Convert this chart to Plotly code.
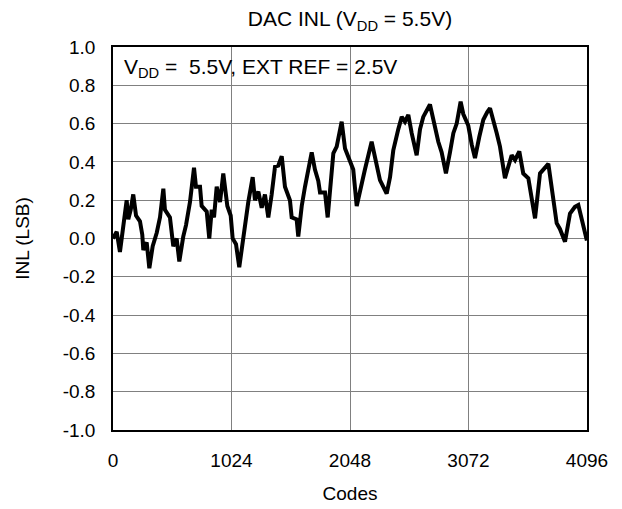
import plotly.graph_objects as go

codes = [0, 32, 60, 89, 118, 132, 153, 175, 199, 233, 253, 262, 291, 314, 343, 378, 406, 435, 449, 492,
         521, 550, 573, 607, 631, 665, 700, 717, 752, 766, 810, 832, 853, 873, 896, 925, 953, 988, 1017, 1034,
         1063, 1091, 1121, 1141, 1169, 1207, 1227, 1256, 1285, 1313, 1342, 1371, 1400, 1428, 1458, 1486, 1529,
         1544, 1587, 1601, 1631, 1659, 1688, 1717, 1745, 1774, 1789, 1832, 1855, 1875, 1904, 1933, 1976, 2005,
         2048, 2076, 2106, 2134, 2177, 2235, 2264, 2307, 2336, 2365, 2394, 2422, 2465, 2495, 2523, 2552, 2581,
         2624, 2653, 2681, 2739, 2768, 2811, 2840, 2877, 2912, 2941, 2970, 3004, 3027, 3070, 3100, 3128, 3165,
         3200, 3234, 3258, 3316, 3344, 3387, 3416, 3445, 3474, 3511, 3545, 3589, 3647, 3690, 3762, 3791, 3834,
         3862, 3906, 3949, 3992, 4021, 4050, 4095]
inl = [0.00, 0.035, -0.07, 0.06, 0.20, 0.10, 0.15, 0.23, 0.12, 0.09, 0.02, -0.06, -0.02, -0.155, -0.04, 0.03,
       0.11, 0.26, 0.15, 0.11, -0.04, 0.00, -0.12, 0.01, 0.07, 0.19, 0.37, 0.27, 0.27, 0.17, 0.14, 0.00, 0.15,
       0.11, 0.27, 0.19, 0.34, 0.17, 0.12, 0.00, -0.03, -0.15, -0.01, 0.10, 0.19, 0.32, 0.20, 0.245, 0.16, 0.23,
       0.11, 0.23, 0.375, 0.38, 0.43, 0.27, 0.20, 0.11, 0.10, 0.01, 0.17, 0.27, 0.36, 0.45, 0.36, 0.30, 0.24,
       0.24, 0.11, 0.24, 0.445, 0.48, 0.61, 0.47, 0.41, 0.36, 0.17, 0.25, 0.36, 0.505, 0.43, 0.305, 0.27, 0.235,
       0.32, 0.46, 0.57, 0.635, 0.61, 0.645, 0.55, 0.435, 0.57, 0.635, 0.70, 0.62, 0.505, 0.45, 0.34, 0.45, 0.55,
       0.60, 0.715, 0.65, 0.59, 0.49, 0.42, 0.53, 0.62, 0.66, 0.68, 0.55, 0.48, 0.315, 0.37, 0.435, 0.41, 0.455,
       0.34, 0.315, 0.105, 0.34, 0.39, 0.27, 0.08, 0.05, -0.017, 0.13, 0.165, 0.175, 0.10, -0.01]

x_ticks = [0, 1024, 2048, 3072, 4096]
x_ticktext = ["0", "1024", "2048", "3072", "4096"]
y_ticks = [-1.0, -0.8, -0.6, -0.4, -0.2, 0.0, 0.2, 0.4, 0.6, 0.8, 1.0]
y_ticktext = ["-1.0", "-0.8", "-0.6", "-0.4", "-0.2", "0.0", "0.2", "0.4", "0.6", "0.8", "1.0"]

FONT = "Liberation Sans, Arial, sans-serif"
FS = 19

fig = go.Figure()
fig.add_trace(go.Scatter(x=codes, y=inl, mode="lines",
                         line=dict(color="black", width=4), showlegend=False, hoverinfo="skip"))

fig.update_layout(
    width=622, height=509,
    margin=dict(l=113, r=35, t=47, b=79, autoexpand=False),
    paper_bgcolor="white", plot_bgcolor="white",
    font=dict(family=FONT, size=FS, color="black"),
    title=dict(text="DAC INL (V<sub>DD</sub> = 5.5V)", xref="paper", x=0.5, xanchor="center",
               y=1 - 19 / 509, yanchor="middle", font=dict(size=21, family=FONT)),
    xaxis=dict(range=[0, 4096], tickvals=x_ticks, ticktext=x_ticktext,
               showgrid=True, gridcolor="#808080", gridwidth=1,
               showline=True, linecolor="black", linewidth=1.5, mirror=True,
               ticks="", zeroline=False, ticklabelstandoff=12,
               title=dict(text="Codes", standoff=17, font=dict(size=FS))),
    yaxis=dict(range=[-1, 1], tickvals=y_ticks, ticktext=y_ticktext,
               showgrid=True, gridcolor="#808080", gridwidth=1,
               showline=True, linecolor="black", linewidth=1.5, mirror=True,
               ticks="", zeroline=False, ticklabelstandoff=12,
               title=dict(text="INL (LSB)", standoff=28, font=dict(size=FS))),
    shapes=[dict(type="rect", xref="paper", yref="paper", x0=0, x1=0.70, y0=0.898, y1=1,
                 fillcolor="white", line=dict(width=0), layer="between")],
    annotations=[dict(text="V<sub>DD</sub> =  5.5V, EXT REF = 2.5V", xref="paper", yref="paper",
                      x=0.019, y=0.945, xanchor="left", yanchor="middle", showarrow=False,
                      font=dict(size=21, family=FONT, color="black"))],
)

fig.write_html("out.html")
